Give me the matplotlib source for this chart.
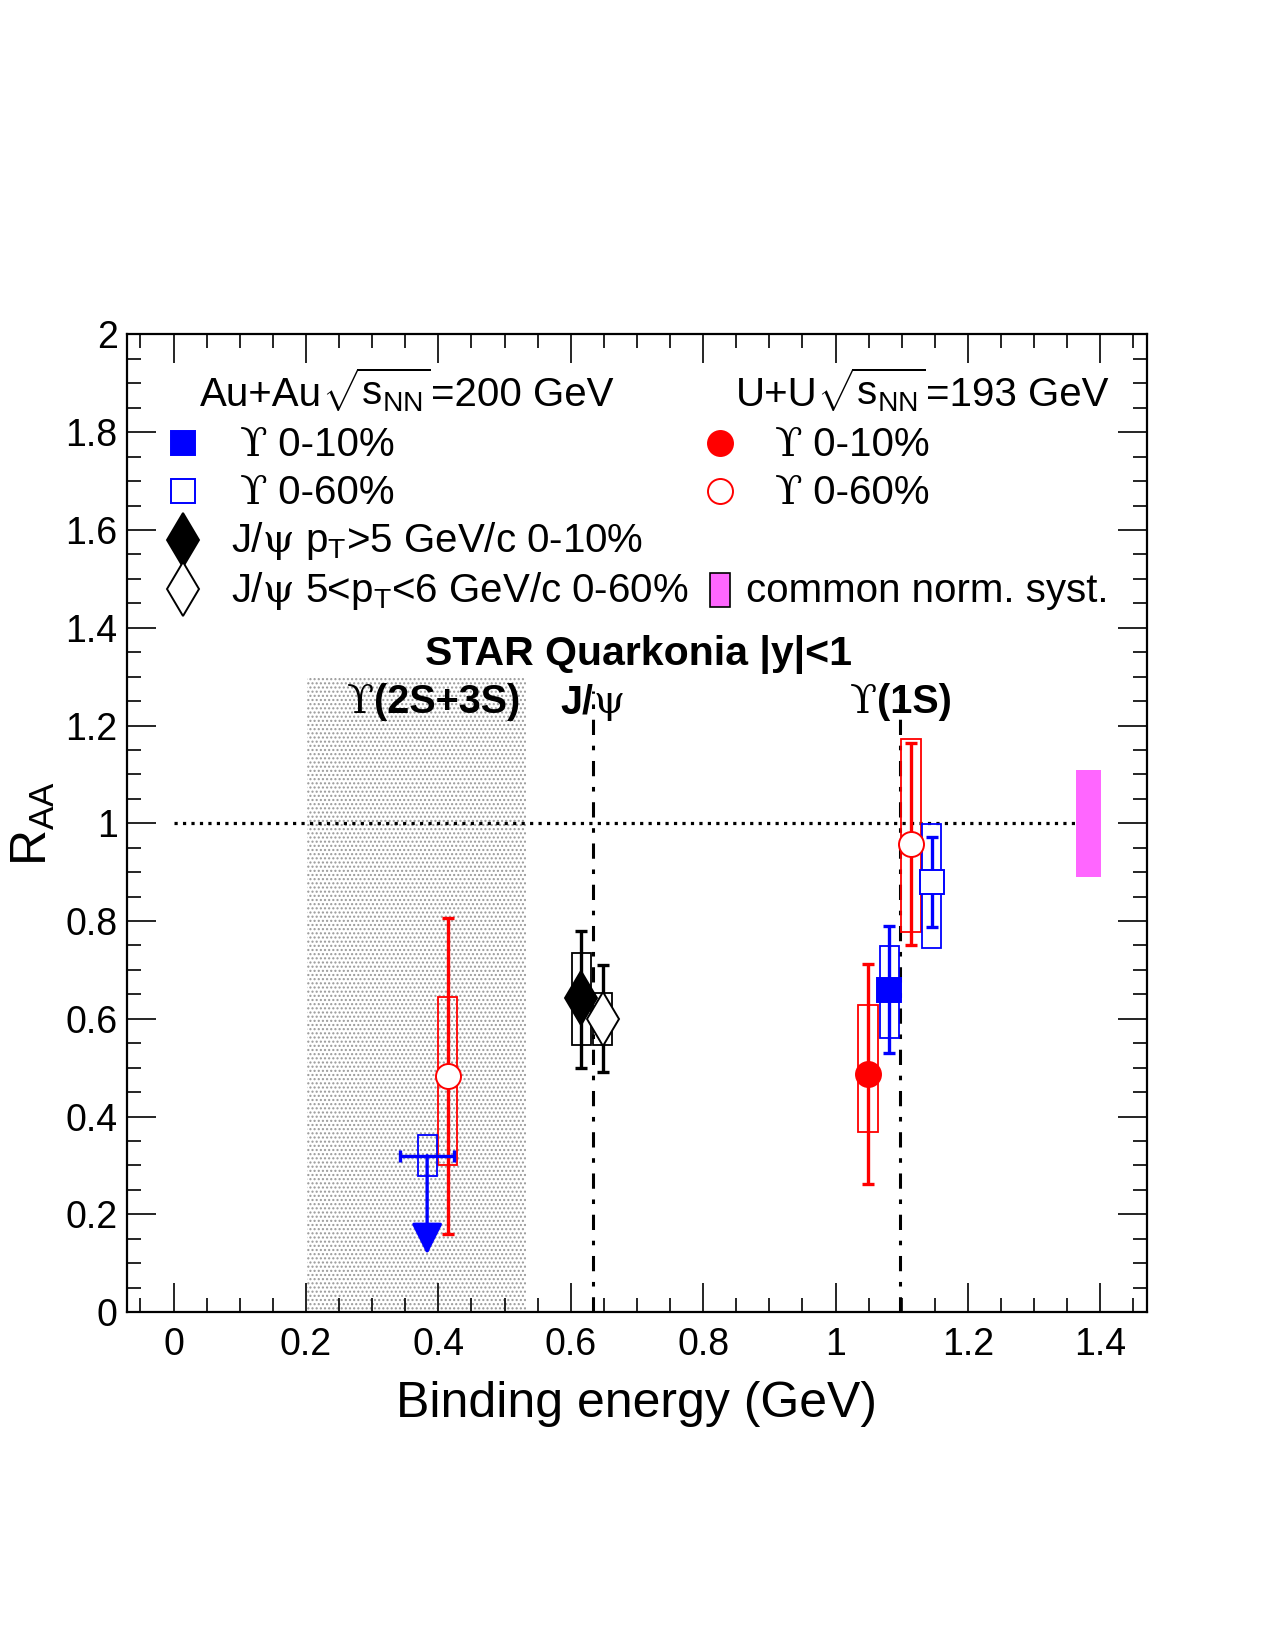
import numpy as np
import matplotlib
matplotlib.use('Agg')
import matplotlib.pyplot as plt
import matplotlib.ticker as ticker
from matplotlib.patches import Rectangle
from matplotlib.transforms import offset_copy

plt.rcParams['font.family'] = ['Liberation Sans', 'DejaVu Sans']
plt.rcParams['mathtext.fontset'] = 'custom'
plt.rcParams['mathtext.rm'] = 'Liberation Sans'
plt.rcParams['mathtext.it'] = 'Liberation Sans:italic'
plt.rcParams['mathtext.bf'] = 'Liberation Sans:bold'
plt.rcParams['hatch.linewidth'] = 1.0

# Binding energy (GeV), points shifted a bit around the nominal value so they don't overlap
# Au+Au 200 GeV, Upsilon(1S) 0-10%
auau010_x = [1.081]
auau010_y = [0.658]
auau010_stat_lo = [0.529]
auau010_stat_hi = [0.790]
auau010_sys_lo = [0.561]
auau010_sys_hi = [0.748]

# Au+Au 200 GeV, Upsilon(1S) 0-60%
auau060_x = [1.145]
auau060_y = [0.880]
auau060_stat_lo = [0.788]
auau060_stat_hi = [0.971]
auau060_sys_lo = [0.745]
auau060_sys_hi = [0.998]

# Au+Au 200 GeV, Upsilon(2S+3S) 0-60% upper limit
lim_x = [0.383]
lim_y = [0.320]
lim_xerr = [0.041]
lim_sys_lo = [0.278]
lim_sys_hi = [0.362]
lim_to = [0.118]

# U+U 193 GeV, Upsilon(1S) 0-10%
uu010_x = [1.049]
uu010_y = [0.488]
uu010_stat_lo = [0.263]
uu010_stat_hi = [0.713]
uu010_sys_lo = [0.368]
uu010_sys_hi = [0.628]

# U+U 193 GeV, Upsilon(2S+3S) and Upsilon(1S) 0-60%
uu060_x = [0.414, 1.114]
uu060_y = [0.482, 0.958]
uu060_stat_lo = [0.159, 0.750]
uu060_stat_hi = [0.807, 1.164]
uu060_sys_lo = [0.301, 0.778]
uu060_sys_hi = [0.644, 1.172]

# J/psi Au+Au 200 GeV
jpsi010_x = [0.616]
jpsi010_y = [0.642]
jpsi010_stat_lo = [0.500]
jpsi010_stat_hi = [0.780]
jpsi010_sys_lo = [0.547]
jpsi010_sys_hi = [0.734]

jpsi060_x = [0.648]
jpsi060_y = [0.600]
jpsi060_stat_lo = [0.491]
jpsi060_stat_hi = [0.710]
jpsi060_sys_lo = [0.547]
jpsi060_sys_hi = [0.652]

# common normalisation uncertainty
norm_x = 1.382
norm_lo = 0.891
norm_hi = 1.109

# nominal binding energies (dash-dot lines) and 2S+3S range
jpsi_be = 0.634
ups1s_be = 1.098
band_lo, band_hi = 0.202, 0.533

BLUE = '#0000ff'
RED = '#ff0000'
MAGENTA = '#ff66ff'
BOX_HW = 0.0145
DIA = 27
SERIF = 'DejaVu Serif'
SANS = 'Liberation Sans'
SQRT = r'$\,\!\sqrt{\rm s_{NN}}\!\!\!$'

fig = plt.figure(figsize=(12.75, 16.5), dpi=100)
ax = fig.add_axes([0.0998, 0.2048, 0.7996, 0.5925])
ax.set_xlim(-0.07, 1.47)
ax.set_ylim(0, 2)


def draw(x, y, lo, hi, slo, shi, color, marker, ms, filled):
    for xi, a, b in zip(x, slo, shi):
        ax.add_patch(Rectangle((xi - BOX_HW, a), 2 * BOX_HW, b - a, fill=False,
                               ec=color, lw=1.3, zorder=3))
    yerr = [np.subtract(y, lo), np.subtract(hi, y)]
    ax.errorbar(x, y, yerr=yerr, fmt='none', ecolor=color, elinewidth=2.4,
                capsize=4, capthick=2.4, zorder=4)
    ax.plot(x, y, ls='none', marker=marker, ms=ms, color=color,
            mfc=color if filled else 'white', mew=1.4, zorder=5)


def rich(x, y, parts, size=29):
    # draw text pieces one after another on the same baseline
    r = fig.canvas.get_renderer()
    dx = 0
    for s, fam, wt in parts:
        t = ax.text(x, y, s, fontsize=size, family=fam, weight=wt, va='baseline',
                    transform=offset_copy(ax.transData, fig=fig, x=dx, y=0, units='dots'),
                    zorder=6)
        dx += t.get_window_extent(r).width


# 2S+3S binding energy band
ax.add_patch(Rectangle((band_lo, 0), band_hi - band_lo, 1.30, fc='white', ec='0.6',
                       lw=0, hatch='....', zorder=1))

# reference lines
ax.plot([0, 1.4], [1, 1], color='k', ls=':', lw=2.3, zorder=2)
for xb in [jpsi_be, ups1s_be]:
    ax.plot([xb, xb], [0, 1.27], color='k', lw=2.2, dashes=[5, 3.5, 1.5, 3.5], zorder=2)

# common norm. syst.
ax.add_patch(Rectangle((norm_x - 0.019, norm_lo), 0.038, norm_hi - norm_lo, fc=MAGENTA,
                       ec='none', zorder=2))

# data
draw(uu060_x, uu060_y, uu060_stat_lo, uu060_stat_hi, uu060_sys_lo, uu060_sys_hi,
     RED, 'o', 18, False)
draw(uu010_x, uu010_y, uu010_stat_lo, uu010_stat_hi, uu010_sys_lo, uu010_sys_hi,
     RED, 'o', 18, True)
draw(auau060_x, auau060_y, auau060_stat_lo, auau060_stat_hi, auau060_sys_lo, auau060_sys_hi,
     BLUE, 's', 17, False)
draw(auau010_x, auau010_y, auau010_stat_lo, auau010_stat_hi, auau010_sys_lo, auau010_sys_hi,
     BLUE, 's', 17, True)
draw(jpsi010_x, jpsi010_y, jpsi010_stat_lo, jpsi010_stat_hi, jpsi010_sys_lo, jpsi010_sys_hi,
     'k', 'd', DIA, True)
draw(jpsi060_x, jpsi060_y, jpsi060_stat_lo, jpsi060_stat_hi, jpsi060_sys_lo, jpsi060_sys_hi,
     'k', 'd', DIA, False)

# upper limit
for xi, a, b in zip(lim_x, lim_sys_lo, lim_sys_hi):
    ax.add_patch(Rectangle((xi - BOX_HW, a), 2 * BOX_HW, b - a, fill=False, ec=BLUE,
                           lw=1.3, zorder=3))
ax.errorbar(lim_x, lim_y, xerr=lim_xerr, fmt='none', ecolor=BLUE, elinewidth=2.4,
            capsize=4, capthick=2.4, zorder=4)
for xi, yi, yt in zip(lim_x, lim_y, lim_to):
    ax.annotate('', xy=(xi, yt), xytext=(xi, yi),
                arrowprops=dict(arrowstyle='-|>,head_length=0.5,head_width=0.25',
                                mutation_scale=38, color=BLUE, lw=2.4,
                                shrinkA=0, shrinkB=0), zorder=4)

# legend (ROOT style, drawn by hand)
rich(0.040, 1.854, [('Au+Au', SANS, 'normal'), (SQRT, SANS, 'normal'),
                    ('=200 GeV', SANS, 'normal')])
rich(0.849, 1.854, [('U+U', SANS, 'normal'), (SQRT, SANS, 'normal'),
                    ('=193 GeV', SANS, 'normal')])

ax.plot(0.014, 1.778, 's', ms=17, color=BLUE, mew=1.4)
ax.plot(0.014, 1.679, 's', ms=17, color=BLUE, mfc='white', mew=1.4)
ax.plot(0.014, 1.580, 'd', ms=DIA, color='k', mew=1.4)
ax.plot(0.014, 1.479, 'd', ms=DIA, color='k', mfc='white', mew=1.4)
ax.plot(0.825, 1.778, 'o', ms=18, color=RED, mew=1.4)
ax.plot(0.825, 1.679, 'o', ms=18, color=RED, mfc='white', mew=1.4)
ax.add_patch(Rectangle((0.811, 1.443), 0.030, 0.068, fc=MAGENTA, ec='k', lw=1.2, zorder=5))

rich(0.100, 1.752, [('\u03d2', SERIF, 'normal'), (' 0-10%', SANS, 'normal')])
rich(0.100, 1.653, [('\u03d2', SERIF, 'normal'), (' 0-60%', SANS, 'normal')])
rich(0.087, 1.554, [('J/', SANS, 'normal'), ('\u03c8', SERIF, 'normal'),
                    (r' p$_{\rm T}$>5 GeV/c 0-10%', SANS, 'normal')])
rich(0.087, 1.453, [('J/', SANS, 'normal'), ('\u03c8', SERIF, 'normal'),
                    (r' 5<p$_{\rm T}$<6 GeV/c 0-60%', SANS, 'normal')])
rich(0.908, 1.752, [('\u03d2', SERIF, 'normal'), (' 0-10%', SANS, 'normal')])
rich(0.908, 1.653, [('\u03d2', SERIF, 'normal'), (' 0-60%', SANS, 'normal')])
rich(0.865, 1.453, [('common norm. syst.', SANS, 'normal')])

ax.text(0.702, 1.324, 'STAR Quarkonia |y|<1', fontsize=29.5, weight='bold',
        ha='center', va='baseline', zorder=6)
rich(0.262, 1.225, [('\u03d2', SERIF, 'normal'), ('(2S+3S)', SANS, 'bold')], size=28.5)
rich(0.584, 1.225, [('J/', SANS, 'bold'), ('\u03c8', SERIF, 'normal')], size=28.5)
rich(1.021, 1.225, [('\u03d2', SERIF, 'normal'), ('(1S)', SANS, 'bold')], size=28.5)

# axes, ROOT look
ax.xaxis.set_major_locator(ticker.MultipleLocator(0.2))
ax.xaxis.set_minor_locator(ticker.MultipleLocator(0.05))
ax.yaxis.set_major_locator(ticker.MultipleLocator(0.2))
ax.yaxis.set_minor_locator(ticker.MultipleLocator(0.05))
fmt = ticker.FuncFormatter(lambda v, p: '%g' % round(v, 3))
ax.xaxis.set_major_formatter(fmt)
ax.yaxis.set_major_formatter(fmt)
ax.tick_params(which='both', direction='in', top=True, right=True, width=1.2)
ax.tick_params(which='major', length=21, labelsize=27)
ax.tick_params(which='minor', length=10)
ax.tick_params(axis='x', pad=11)
ax.tick_params(axis='y', pad=7)
for sp in ax.spines.values():
    sp.set_linewidth(1.6)

ax.set_xlabel('Binding energy (GeV)', fontsize=36, labelpad=13)
ax.set_ylabel(r'R$_{\rm AA}$', fontsize=36, labelpad=6)

fig.savefig('out.png', dpi=100)
